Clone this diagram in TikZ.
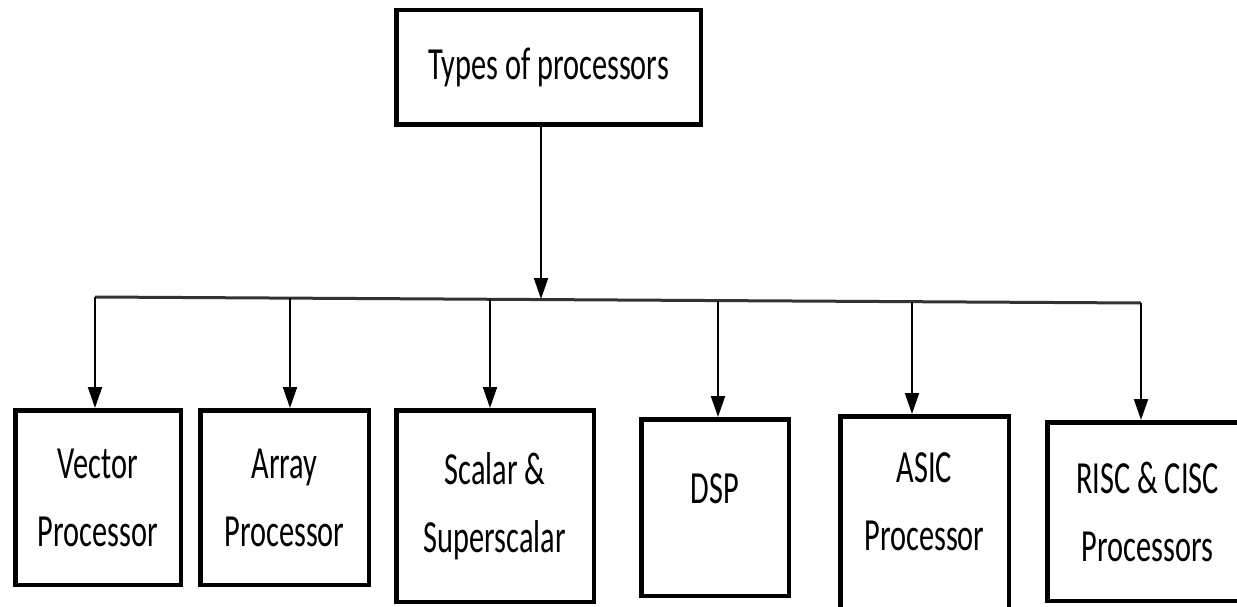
\documentclass[tikz,border=0pt]{standalone}
\usepackage{fontspec}
\newfontfamily\procfont[FakeStretch=0.66]{Carlito}
\usepackage{tikz}
\usetikzlibrary{arrows.meta,positioning}

\begin{document}
\begin{tikzpicture}[->,>={Triangle[length=21pt,width=14pt]},x=1pt,y=-1pt,
                    line width=2pt]
  \tikzstyle{procbox}=[draw=black,line width=4.5pt,align=center,inner sep=0pt,
                       font=\procfont\fontsize{46}{68}\selectfont]

  \useasboundingbox (0,0) rectangle (1237,607);
  \clip (0,0) rectangle (1237,607);

  \node[procbox,minimum width=304.5pt,minimum height=114.5pt] (types) at (548.5,67.5) {Types of processors};

  \node[procbox,minimum width=165.5pt,minimum height=174.5pt] (vector) at (98,497.5)   {Vector\\Processor};
  \node[procbox,minimum width=168.5pt,minimum height=174.5pt] (array)  at (284.5,497.5) {Array\\Processor};
  \node[procbox,minimum width=197.5pt,minimum height=191.5pt] (scalar) at (495,506)     {Scalar \&\\Superscalar};
  \node[procbox,minimum width=147.5pt,minimum height=176.5pt,text depth=37pt] (dsp) at (715,507.5) {DSP};
  \node[procbox,minimum width=168.5pt,minimum height=201.5pt,text depth=30pt] (asic) at (924.5,517) {ASIC\\Processor};
  \node[procbox,minimum width=200.5pt,minimum height=178.5pt] (risc) at (1147.5,511.5) {RISC \& CISC\\Processors};

  % bus line
  \coordinate (busL) at (95,297);
  \coordinate (busR) at (1141,303);
  \coordinate (bus)  at (541,299);
  \draw[-,line width=3pt,black!80] (busL) -- (busR);
  \draw (types.south -| bus) -- (bus);

  \coordinate (dvector) at (95,297);
  \coordinate (darray)  at (290,298);
  \coordinate (dscalar) at (490,299);
  \coordinate (ddsp)    at (718,300.5);
  \coordinate (dasic)   at (912,301.5);
  \coordinate (drisc)   at (1141,303);

  \draw (dvector) -- (dvector |- vector.north);
  \draw (darray)  -- (darray |- array.north);
  \draw (dscalar) -- (dscalar |- scalar.north);
  \draw (ddsp)    -- (ddsp |- dsp.north);
  \draw (dasic)   -- (dasic |- asic.north);
  \draw (drisc)   -- (drisc |- risc.north);
\end{tikzpicture}
\end{document}
